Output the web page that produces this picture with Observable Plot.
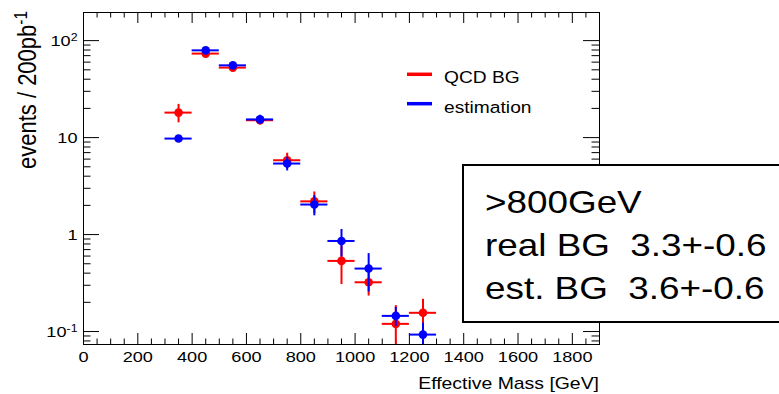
<!DOCTYPE html>
<html>
<head>
<meta charset="utf-8">
<script src="https://cdn.jsdelivr.net/npm/d3@7"></script>
<script src="https://cdn.jsdelivr.net/npm/@observablehq/plot@0.6"></script>
<style>
  html, body { margin: 0; padding: 0; background: #fff; overflow: hidden; }
  #chart { position: relative; width: 779px; height: 394px; }
</style>
</head>
<body>
<div id="chart"></div>
<script>
// Effective-mass bins (GeV): centres, 100 GeV wide
const binCenters = [350, 450, 550, 650, 750, 850, 950, 1050, 1150, 1250];
const binWidth = 100;

// QCD background, events / 200 pb^-1, with statistical errors
const qcdValues = [18.1, 73.5, 52.7, 15.1, 5.84, 2.2, 0.535, 0.322, 0.12, 0.156];
const qcdErrors = [3.9, 4.3, 3.6, 1.6, 1.06, 0.55, 0.23, 0.09, 0.065, 0.059];

// Data-driven estimation, events / 200 pb^-1
const estValues = [9.77, 79.4, 55.6, 15.4, 5.4, 2.04, 0.859, 0.446, 0.145, 0.093];
const estErrors = [0.6, 4.5, 3.7, 1.6, 0.87, 0.48, 0.27, 0.19, 0.032, 0.029];

// Series names and colours
const seriesNames = ["QCD BG", "estimation"];
const seriesColors = ["#ff0000", "#0000ff"];

// Axes
const xDomain = [0, 1900];
const yDomain = [0.0735, 195];
const xMajorTicks = [0, 200, 400, 600, 800, 1000, 1200, 1400, 1600, 1800];
const xMinorTicks = d3.range(0, 1901, 50).filter(v => v % 200 !== 0);
const yMajorTicks = [0.1, 1, 10, 100];
const yTickLabels = ["10^-1", "1", "10", "10^2"];
const yMinorTicks = [0.08, 0.09, 0.2, 0.3, 0.4, 0.5, 0.6, 0.7, 0.8, 0.9,
                     2, 3, 4, 5, 6, 7, 8, 9, 20, 30, 40, 50, 60, 70, 80, 90];
const xTitle = "Effective Mass [GeV]";
const yTitle = ["events / 200pb", "-1"];

// Summary box above 800 GeV
const boxLines = [">800GeV", "real BG  3.3+-0.6", "est. BG  3.6+-0.6"];

// ---- layout ----
const W = 779, H = 394;
const mL = 83, mR = 180, mT = 12, mB = 50;
const fw = W - mL - mR, fh = H - mT - mB;
const FONT = "'Liberation Sans', Arial, Helvetica, sans-serif";
const STRETCH = 1.17; // wide glyphs, as in the ROOT canvas

const toRows = (vals, errs) => binCenters.map((c, i) => ({
  c, lo: c - binWidth / 2, hi: c + binWidth / 2, v: vals[i], e: errs[i]
}));
const qcd = toRows(qcdValues, qcdErrors);
const est = toRows(estValues, estErrors);

function pointsWithErrors(data, color) {
  return [
    Plot.ruleY(data, {y: "v", x1: "lo", x2: "hi", stroke: color, strokeWidth: 2}),
    Plot.ruleX(data, {x: "c", y1: d => d.v - d.e, y2: d => d.v + d.e,
                      stroke: color, strokeWidth: 2, clip: true}),
    Plot.dot(data, {x: "c", y: "v", r: 4.3, fill: color, stroke: "none"})
  ];
}

const chart = Plot.plot({
  width: W, height: H,
  marginLeft: mL, marginRight: mR, marginTop: mT, marginBottom: mB,
  style: {fontFamily: FONT, fontSize: "15.5px", color: "#000", background: "#fff"},
  x: {domain: xDomain},
  y: {type: "log", domain: yDomain},
  marks: [
    // ticks drawn inward on all four sides
    Plot.tickX(xMajorTicks, {x: d => d, insetTop: fh - 11, stroke: "#000"}),
    Plot.tickX(xMajorTicks, {x: d => d, insetBottom: fh - 11, stroke: "#000"}),
    Plot.tickX(xMinorTicks, {x: d => d, insetTop: fh - 5.5, stroke: "#000"}),
    Plot.tickX(xMinorTicks, {x: d => d, insetBottom: fh - 5.5, stroke: "#000"}),
    Plot.tickY(yMajorTicks, {y: d => d, insetRight: fw - 16, stroke: "#000"}),
    Plot.tickY(yMajorTicks, {y: d => d, insetLeft: fw - 16, stroke: "#000"}),
    Plot.tickY(yMinorTicks, {y: d => d, insetRight: fw - 7.5, stroke: "#000"}),
    Plot.tickY(yMinorTicks, {y: d => d, insetLeft: fw - 7.5, stroke: "#000"}),
    Plot.axisX({ticks: xMajorTicks, tickSize: 0, tickPadding: 6, label: null,
                tickFormat: d => String(d)}),
    Plot.axisY({ticks: yMajorTicks, tickSize: 0, tickPadding: 6, label: null,
                tickFormat: d => yTickLabels[yMajorTicks.indexOf(d)]}),
    Plot.frame({stroke: "#000", strokeWidth: 1}),
    ...pointsWithErrors(qcd, seriesColors[0]),
    ...pointsWithErrors(est, seriesColors[1])
  ]
});

document.getElementById("chart").appendChild(chart);
const svg = d3.select(chart);

// tick labels: widen glyphs and raise exponents
svg.selectAll("g[aria-label$='tick label'] text").each(function () {
  const t = d3.select(this);
  const label = t.text();
  if (label.includes("^")) {
    const [base, exp] = label.split("^");
    t.text(base);
    t.append("tspan").attr("dy", "-0.42em").attr("font-size", "68%").text(exp);
  }
  t.attr("transform", (t.attr("transform") || "") + ` scale(${STRETCH},1)`);
});

const layer = svg.append("g")
  .attr("font-family", FONT).attr("fill", "#000").attr("text-anchor", "start");

// axis titles
layer.append("text")
  .attr("text-anchor", "end").attr("font-size", 16.6)
  .attr("transform", `translate(${W - mR},389) scale(${STRETCH},1)`)
  .text(xTitle);

const yt = layer.append("text")
  .attr("text-anchor", "end").attr("font-size", 22)
  .attr("transform", `translate(35.5,${mT - 1}) rotate(-90) scale(1,${STRETCH})`);
yt.append("tspan").text(yTitle[0]);
yt.append("tspan").attr("dy", "-0.45em").attr("font-size", "70%").text(yTitle[1]);

// legend
seriesNames.forEach((name, i) => {
  const y = 74.3 + i * 29.4;
  layer.append("line")
    .attr("x1", 407).attr("x2", 432).attr("y1", y).attr("y2", y)
    .attr("stroke", seriesColors[i]).attr("stroke-width", 3.5);
  layer.append("text")
    .attr("font-size", 17)
    .attr("transform", `translate(444,${y + 9}) scale(1.13,1)`)
    .text(name);
});

// summary box
layer.append("rect")
  .attr("x", 463).attr("y", 165).attr("width", 340).attr("height", 157)
  .attr("fill", "#fff").attr("stroke", "#000").attr("stroke-width", 2);
boxLines.forEach((line, i) => {
  layer.append("text")
    .attr("font-size", 31.5)
    .style("white-space", "pre")
    .attr("xml:space", "preserve")
    .attr("transform", `translate(485,${213.3 + i * 43}) scale(${STRETCH},1)`)
    .text(line);
});
</script>
</body>
</html>
